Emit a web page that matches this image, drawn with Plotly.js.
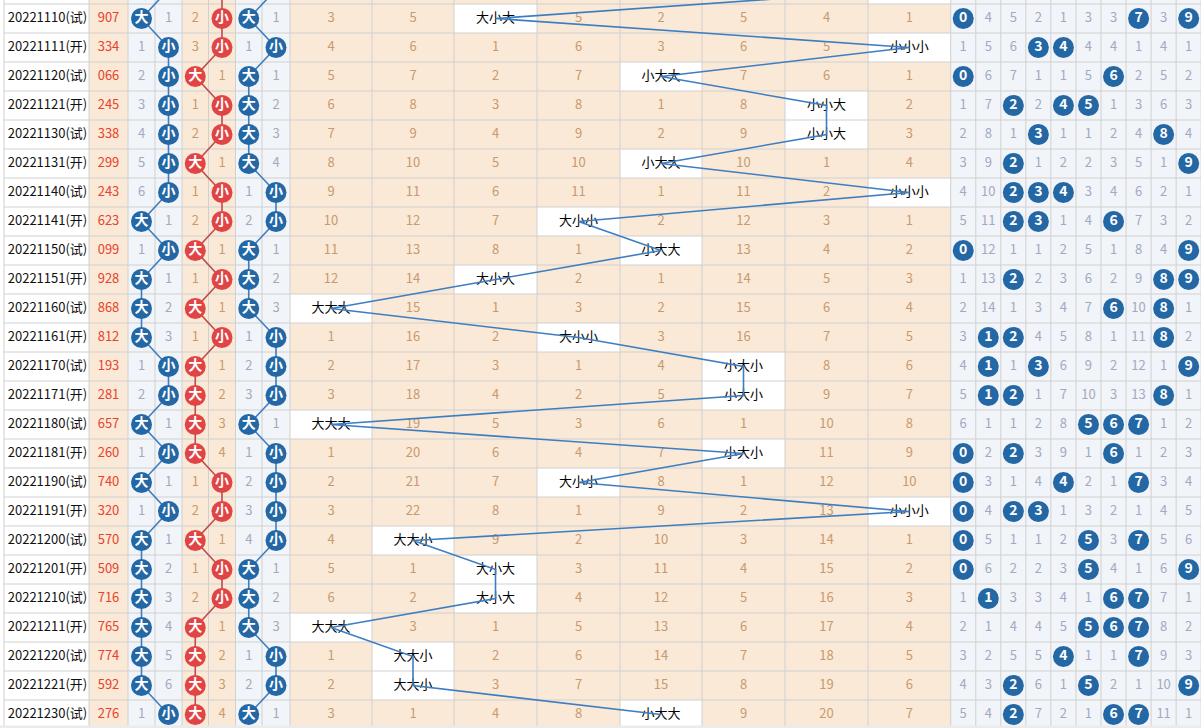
<!DOCTYPE html>
<html><head><meta charset="utf-8">
<script src="https://cdn.plot.ly/plotly-3.0.1.min.js"></script>
<style>html,body{margin:0;padding:0;background:#fff;overflow:hidden}#chart{width:1201px;height:728px}</style>
</head><body><div id="chart"></div>
<script>
// ---------------- data ----------------
const issues = ["20221110(试)","20221111(开)","20221120(试)","20221121(开)","20221130(试)","20221131(开)",
  "20221140(试)","20221141(开)","20221150(试)","20221151(开)","20221160(试)","20221161(开)","20221170(试)",
  "20221171(开)","20221180(试)","20221181(开)","20221190(试)","20221191(开)","20221200(试)","20221201(开)",
  "20221210(试)","20221211(开)","20221220(试)","20221221(开)","20221230(试)"];
const numbers = ["907","334","066","245","338","299","243","623","099","928","868","812","193",
  "281","657","260","740","320","570","509","716","765","774","592","276"];
const prevNumber = "404"; // row above, only a sliver visible
// omission shown in the non-hit 大/小 column for each digit position
const hundredsMiss = [1,1,2,3,4,5,6,1,1,1,2,3,1,2,1,1,1,1,1,2,3,4,5,6,1];
const tensMiss     = [2,3,1,1,2,1,1,2,1,1,1,1,1,2,3,4,1,2,1,1,2,1,2,3,4];
const unitsMiss    = [1,1,1,2,3,4,1,2,1,2,3,1,2,3,1,1,2,3,4,1,2,3,1,2,1];
const sizeLabels = ["大","小"];
const patternNames = ["大大大","大大小","大小大","大小小","小大大","小大小","小小大","小小小"];
const patternMiss = [
  [3,5,null,5,2,5,4,1],[4,6,1,6,3,6,5,null],[5,7,2,7,null,7,6,1],[6,8,3,8,1,8,null,2],
  [7,9,4,9,2,9,null,3],[8,10,5,10,null,10,1,4],[9,11,6,11,1,11,2,null],[10,12,7,null,2,12,3,1],
  [11,13,8,1,null,13,4,2],[12,14,null,2,1,14,5,3],[null,15,1,3,2,15,6,4],[1,16,2,null,3,16,7,5],
  [2,17,3,1,4,null,8,6],[3,18,4,2,5,null,9,7],[null,19,5,3,6,1,10,8],[1,20,6,4,7,null,11,9],
  [2,21,7,null,8,1,12,10],[3,22,8,1,9,2,13,null],[4,null,9,2,10,3,14,1],[5,1,null,3,11,4,15,2],
  [6,2,null,4,12,5,16,3],[null,3,1,5,13,6,17,4],[1,null,2,6,14,7,18,5],[2,null,3,7,15,8,19,6],
  [3,1,4,8,null,9,20,7]];
const digitLabels = ["0","1","2","3","4","5","6","7","8","9"];
const digitMiss = [
  [null,4,5,2,1,3,3,null,3,null],[1,5,6,null,null,4,4,1,4,1],[null,6,7,1,1,5,null,2,5,2],
  [1,7,null,2,null,null,1,3,6,3],[2,8,1,null,1,1,2,4,null,4],[3,9,null,1,2,2,3,5,1,null],
  [4,10,null,null,null,3,4,6,2,1],[5,11,null,null,1,4,null,7,3,2],[null,12,1,1,2,5,1,8,4,null],
  [1,13,null,2,3,6,2,9,null,null],[2,14,1,3,4,7,null,10,null,1],[3,null,null,4,5,8,1,11,null,2],
  [4,null,1,null,6,9,2,12,1,null],[5,null,null,1,7,10,3,13,null,1],[6,1,1,2,8,null,null,null,1,2],
  [null,2,null,3,9,1,null,1,2,3],[null,3,1,4,null,2,1,null,3,4],[null,4,null,null,1,3,2,1,4,5],
  [null,5,1,1,2,null,3,null,5,6],[null,6,2,2,3,null,4,1,6,null],[1,null,3,3,4,1,null,null,7,1],
  [2,1,4,4,5,null,null,null,8,2],[3,2,5,5,null,1,1,null,9,3],[4,3,null,6,1,null,2,1,10,null],
  [5,4,null,7,2,1,null,null,11,1]];

// ---------------- layout constants ----------------
const W = 1201, H = 728, ROW_TOP = 4.0, ROW_H = 29.0, STRIP_TOP = 725.5;
const FONT = '"Noto Sans CJK SC","Noto Sans",sans-serif';
const X_DATE = [4, 89], X_NUM = [89, 128];
const X_POS = [[128, 155, 182], [182, 208.5, 235.5], [235.5, 262, 290]];
const X_PAT = [290, 372, 454, 537, 620, 702, 785, 868, 950.7];
const X_DIG = Array.from({length: 11}, (_, k) => 950.7 + 25.05 * k);
const PEACH = '#fae9d6', BLUEGRAY = '#f1f4f8', GRID = '#d0d0d0';
const C_BLUE = '#2467a5', C_RED = '#e04444', C_LBLUE = '#3d7ec2', C_LRED = '#bf4b4b';
const C_MISS_B = '#a3a9c2', C_MISS_P = '#c9996f', C_NUM = '#e8432c';
const mid = (a, b) => (a + b) / 2;
const rowY = i => i + 0.5;
const N = numbers.length;
const stripY = (STRIP_TOP - ROW_TOP) / ROW_H;

// ---------------- shapes: backgrounds and grid ----------------
const shapes = [];
function rect(x0, x1, y0, y1, fill, layer) {
  shapes.push({type: 'rect', xref: 'x', yref: 'y', x0, x1, y0, y1, fillcolor: fill, line: {width: 0}, layer: layer || 'below'});
}
rect(X_DATE[0], X_DATE[1], -2, N, '#ffffff');
rect(X_NUM[0], X_NUM[1], -2, N, PEACH);
rect(X_POS[0][0], X_POS[0][2], -2, N, BLUEGRAY);
rect(X_POS[1][0], X_POS[1][2], -2, N, PEACH);
rect(X_POS[2][0], X_POS[2][2], -2, N, BLUEGRAY);
rect(X_PAT[0], X_PAT[8], -2, N, PEACH);
rect(X_DIG[0], X_DIG[10], -2, N, BLUEGRAY);

function patIdx(num) {
  const d = num.split('').map(Number);
  return (d[0] < 5 ? 4 : 0) + (d[1] < 5 ? 2 : 0) + (d[2] < 5 ? 1 : 0);
}
const allNums = [prevNumber].concat(numbers); // index 0 => row -1
allNums.forEach((num, k) => {
  const i = k - 1, p = patIdx(num);
  rect(X_PAT[p], X_PAT[p + 1], i, i + 1, '#ffffff');
});
const vEdges = [X_DATE[0], X_NUM[0], X_NUM[1], 155, 182, 208.5, 235.5, 262].concat(X_PAT, X_DIG.slice(1));
vEdges.forEach(x => shapes.push({type: 'line', xref: 'x', yref: 'y', x0: x, x1: x, y0: -2, y1: N, line: {color: GRID, width: 1}, layer: 'below'}));
for (let i = -1; i <= N; i++) {
  shapes.push({type: 'line', xref: 'x', yref: 'y', x0: X_DATE[0], x1: W, y0: i, y1: i, line: {color: GRID, width: 1}, layer: 'below'});
}
// grey strip at the bottom edge (covers the lower part of the last row)
rect(0, W, stripY, N + 2, '#ebebeb', 'above');

// ---------------- traces ----------------
const traces = [];
function textTrace(xs, ys, texts, color, size, weight) {
  traces.push({type: 'scatter', mode: 'text', x: xs, y: ys, text: texts, textposition: 'middle center',
    textfont: {family: FONT, size: size, color: color, weight: weight || 'normal'}, hoverinfo: 'skip', showlegend: false});
}
// dates & numbers
textTrace(issues.map(() => mid(X_DATE[0], X_DATE[1]) + 1), issues.map((_, i) => rowY(i)), issues, '#111111', 13);
textTrace(numbers.map(() => mid(X_NUM[0], X_NUM[1])), numbers.map((_, i) => rowY(i)), numbers, C_NUM, 13);

// size columns: missing text
const posMiss = [hundredsMiss, tensMiss, unitsMiss];
const posMissColor = [C_MISS_B, C_MISS_P, C_MISS_B];
const ballX = (pos, num) => { const big = Number(num[pos]) >= 5; const c = X_POS[pos]; return big ? mid(c[0], c[1]) : mid(c[1], c[2]); };
const otherX = (pos, num) => { const big = Number(num[pos]) >= 5; const c = X_POS[pos]; return big ? mid(c[1], c[2]) : mid(c[0], c[1]); };
for (let p = 0; p < 3; p++) {
  textTrace(numbers.map(n => otherX(p, n)), numbers.map((_, i) => rowY(i)), posMiss[p].map(String), posMissColor[p], 13);
}
// pattern columns: missing text and hit labels
const pmx = [], pmy = [], pmt = [], phx = [], phy = [], pht = [];
patternMiss.forEach((row, i) => row.forEach((v, c) => {
  const x = mid(X_PAT[c], X_PAT[c + 1]);
  if (v === null) { phx.push(x); phy.push(rowY(i)); pht.push(patternNames[c]); }
  else { pmx.push(x); pmy.push(rowY(i)); pmt.push(String(v)); }
}));
textTrace(pmx, pmy, pmt, C_MISS_P, 13);
textTrace(phx, phy, pht, '#000000', 13);
// digit distribution missing text
const dmx = [], dmy = [], dmt = [], dbx = [], dby = [], dbt = [];
digitMiss.forEach((row, i) => row.forEach((v, c) => {
  const x = mid(X_DIG[c], X_DIG[c + 1]);
  if (v === null) { dbx.push(x); dby.push(rowY(i)); dbt.push(digitLabels[c]); }
  else { dmx.push(x); dmy.push(rowY(i)); dmt.push(String(v)); }
}));
textTrace(dmx, dmy, dmt, C_MISS_B, 13);
// previous row distribution balls (only their lower edge is visible; no label)
new Set(prevNumber.split('')).forEach(d => { dbx.push(mid(X_DIG[+d], X_DIG[+d + 1])); dby.push(-0.5); dbt.push(''); });

// connecting lines
const lineY = allNums.map((_, k) => k - 0.5);
const lineCols = [C_LBLUE, C_LRED, C_LBLUE];
for (let p = 0; p < 3; p++) {
  traces.push({type: 'scatter', mode: 'lines', x: allNums.map(n => ballX(p, n)), y: lineY,
    line: {color: lineCols[p], width: 1.6}, hoverinfo: 'skip', showlegend: false});
}
traces.push({type: 'scatter', mode: 'lines', x: allNums.map(n => { const c = patIdx(n); return mid(X_PAT[c], X_PAT[c + 1]); }), y: lineY,
  line: {color: C_LBLUE, width: 1.6}, hoverinfo: 'skip', showlegend: false});

// balls in size columns
const ballCols = [C_BLUE, C_RED, C_BLUE];
for (let p = 0; p < 3; p++) {
  traces.push({type: 'scatter', mode: 'markers+text', x: allNums.map(n => ballX(p, n)), y: lineY,
    text: allNums.map((n, k) => k === 0 ? '' : sizeLabels[Number(n[p]) >= 5 ? 0 : 1]), textposition: 'middle center',
    textfont: {family: FONT, size: 14, color: '#ffffff', weight: 'bold'},
    marker: {size: 21, color: ballCols[p], line: {width: 0}}, hoverinfo: 'skip', showlegend: false});
}
// balls in digit columns
traces.push({type: 'scatter', mode: 'markers+text', x: dbx, y: dby, text: dbt, textposition: 'middle center',
  textfont: {family: FONT, size: 14, color: '#ffffff', weight: 'bold'},
  marker: {size: 21, color: C_BLUE, line: {width: 0}}, hoverinfo: 'skip', showlegend: false});

const layout = {
  width: W, height: H, margin: {l: 0, r: 0, t: 0, b: 0}, paper_bgcolor: '#ffffff', plot_bgcolor: '#ffffff',
  xaxis: {range: [0, W], showgrid: false, zeroline: false, showticklabels: false, showline: false, fixedrange: true},
  yaxis: {range: [(H - ROW_TOP) / ROW_H, -ROW_TOP / ROW_H], showgrid: false, zeroline: false, showticklabels: false, showline: false, fixedrange: true},
  shapes: shapes, showlegend: false, hovermode: false
};
Plotly.newPlot('chart', traces, layout, {displayModeBar: false, staticPlot: true});
</script></body></html>
